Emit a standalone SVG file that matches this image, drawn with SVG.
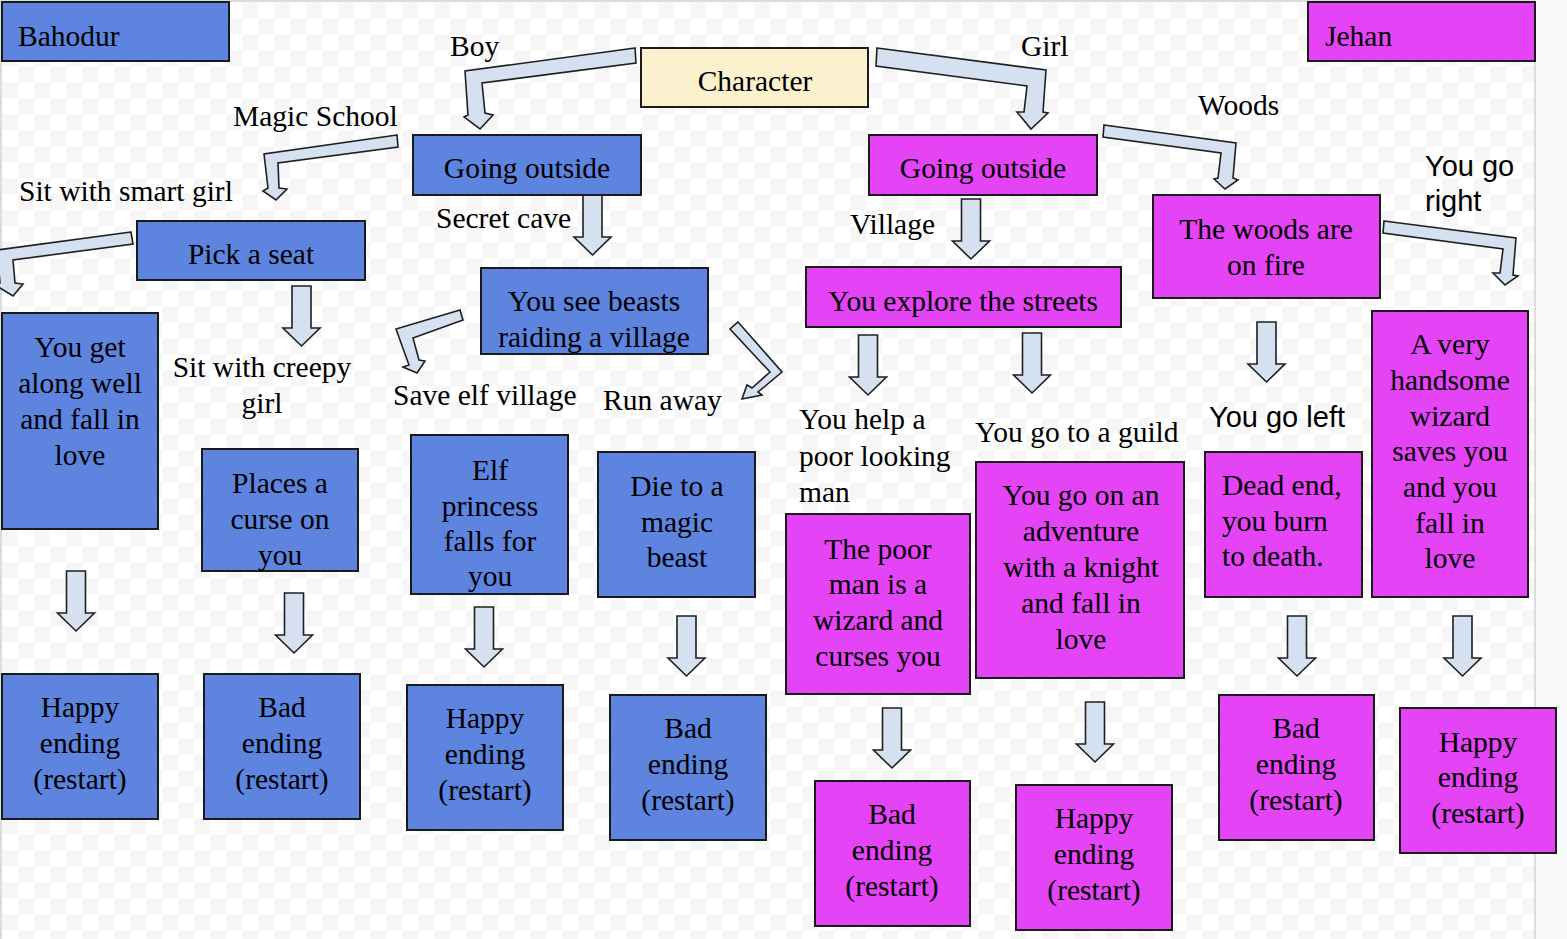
<svg xmlns="http://www.w3.org/2000/svg" width="1567" height="939" viewBox="0 0 1567 939">
<style>
.bl{fill:#5d85e0;stroke:#1a1a1a;stroke-width:2}
.mg{fill:#e443f6;stroke:#1a1a1a;stroke-width:2}
.ch{fill:#fcf1cf;stroke:#1a1a1a;stroke-width:2}
.ar{fill:#d5e1f1;stroke:#1f1f1f;stroke-width:1.6;stroke-linejoin:miter}
text{font-family:"Liberation Serif","Times New Roman",serif;font-size:29.5px;fill:#000}
.c{text-anchor:middle}
.s{font-family:"Liberation Sans",Arial,sans-serif;font-size:29px}
</style>
<defs>
<pattern id="chk" patternUnits="userSpaceOnUse" x="2" y="2" width="32" height="32">
<rect width="32" height="32" fill="#ffffff"/>
<rect x="16" y="0" width="16" height="16" fill="#f6f6f6"/>
<rect x="0" y="16" width="16" height="16" fill="#f6f6f6"/>
</pattern>
<path id="darr" d="M-9.5,0 H9.5 V42 H18.5 L0,60 L-18.5,42 H-9.5 Z"/>
</defs>
<rect x="0" y="0" width="1567" height="939" fill="#f8f9fb"/>
<rect x="1" y="1" width="1534" height="940" fill="url(#chk)" stroke="#c8c8c8" stroke-width="1.2"/>

<g id="connectors">
<polygon class="ar" points="635,48 465,71 468,115 464,117 480,129 493,115 485,113 482,83 636,63"/>
<polygon class="ar" points="877,48 1046,70 1043,112 1048,113 1031,129 1017,112 1024,112 1027,86 876,66"/>
<polygon class="ar" points="1104,125 1236,143 1233,178 1238,180 1225,189 1214,179 1218,178 1221,153 1103,137"/>
<polygon class="ar" points="1384,221 1516,238 1513,275 1518,276 1505,285 1493,273 1500,273 1503,249 1383,233"/>
<polygon class="ar" points="397,135 264,154 268,188 263,191 276,200 287,189 279,188 278,163 398,147"/>
<polygon class="ar" points="131,232 -3,250 0,283 -5,285 13,296 23,284 15,283 13,260 133,244"/>
<polygon class="ar" points="460,310 396,329 409,365 403,367 417,373 425,361 419,360 413,338 463,320"/>
<polygon class="ar" points="738,322 782,372 758,392 762,395 742,399 747,385 752,388 770,372 730,329"/>
<use href="#darr" class="ar" x="592.5" y="195"/>
<use href="#darr" class="ar" x="301.5" y="286"/>
<use href="#darr" class="ar" x="971" y="199"/>
<use href="#darr" class="ar" x="868" y="335"/>
<use href="#darr" class="ar" x="1032" y="333"/>
<use href="#darr" class="ar" x="1266.5" y="322"/>
<use href="#darr" class="ar" x="76" y="571"/>
<use href="#darr" class="ar" x="294" y="593"/>
<use href="#darr" class="ar" x="484" y="607"/>
<use href="#darr" class="ar" x="686.5" y="616"/>
<use href="#darr" class="ar" x="892" y="708"/>
<use href="#darr" class="ar" x="1095" y="702"/>
<use href="#darr" class="ar" x="1297" y="616"/>
<use href="#darr" class="ar" x="1462.5" y="616"/>
</g>

<g id="labels">
<text x="450" y="56">Boy</text>
<text x="1021" y="56">Girl</text>
<text x="233" y="126">Magic School</text>
<text x="19" y="201">Sit with smart girl</text>
<text x="436" y="228">Secret cave</text>
<text x="1198" y="115">Woods</text>
<text x="850" y="234">Village</text>
<text class="s" x="1425" y="176">You go</text>
<text class="s" x="1425" y="211">right</text>
<text class="c" x="262" y="377">Sit with creepy</text>
<text class="c" x="262" y="413">girl</text>
<text x="393" y="405">Save elf village</text>
<text x="603" y="410">Run away</text>
<text x="799" y="429">You help a</text>
<text x="799" y="466">poor looking</text>
<text x="799" y="502">man</text>
<text x="975" y="442">You go to a guild</text>
<text class="s" x="1209" y="427">You go left</text>
</g>

<g id="bahodur"><rect class="bl" x="2" y="2" width="227" height="59"/><text x="18" y="46">Bahodur</text></g>
<g id="jehan"><rect class="mg" x="1308" y="2" width="227" height="59"/><text x="1325" y="46">Jehan</text></g>
<g id="character"><rect class="ch" x="641" y="48" width="227" height="59"/><text class="c" x="755" y="91">Character</text></g>
<g id="boy-outside"><rect class="bl" x="413" y="135" width="228" height="60"/><text class="c" x="527" y="178">Going outside</text></g>
<g id="girl-outside"><rect class="mg" x="869" y="135" width="228" height="60"/><text class="c" x="983" y="178">Going outside</text></g>
<g id="woods-fire"><rect class="mg" x="1153" y="195" width="227" height="103"/><text class="c" x="1266" y="239">The woods are</text><text class="c" x="1266" y="275">on fire</text></g>
<g id="pick-seat"><rect class="bl" x="137" y="221" width="228" height="59"/><text class="c" x="251" y="264">Pick a seat</text></g>
<g id="beasts"><rect class="bl" x="481" y="268" width="227" height="86"/><text class="c" x="594" y="311">You see beasts</text><text class="c" x="594" y="347">raiding a village</text></g>
<g id="streets"><rect class="mg" x="806" y="267" width="315" height="60"/><text class="c" x="963" y="311">You explore the streets</text></g>
<g id="along-well"><rect class="bl" x="2" y="313" width="156" height="216"/><text class="c" x="80" y="357">You get</text><text class="c" x="80" y="393">along well</text><text class="c" x="80" y="429">and fall in</text><text class="c" x="80" y="465">love</text></g>
<g id="curse"><rect class="bl" x="202" y="449" width="156" height="122"/><text class="c" x="280" y="493">Places a</text><text class="c" x="280" y="529">curse on</text><text class="c" x="280" y="565">you</text></g>
<g id="elf"><rect class="bl" x="411" y="435" width="157" height="159"/><text class="c" x="490" y="480">Elf</text><text class="c" x="490" y="516">princess</text><text class="c" x="490" y="551">falls for</text><text class="c" x="490" y="586">you</text></g>
<g id="die"><rect class="bl" x="598" y="452" width="157" height="145"/><text class="c" x="677" y="496">Die to a</text><text class="c" x="677" y="532">magic</text><text class="c" x="677" y="567">beast</text></g>
<g id="poor-man"><rect class="mg" x="786" y="514" width="184" height="180"/><text class="c" x="878" y="559">The poor</text><text class="c" x="878" y="594">man is a</text><text class="c" x="878" y="630">wizard and</text><text class="c" x="878" y="666">curses you</text></g>
<g id="knight"><rect class="mg" x="976" y="462" width="208" height="216"/><text class="c" x="1081" y="505">You go on an</text><text class="c" x="1081" y="541">adventure</text><text class="c" x="1081" y="577">with a knight</text><text class="c" x="1081" y="613">and fall in</text><text class="c" x="1081" y="649">love</text></g>
<g id="dead-end"><rect class="mg" x="1205" y="452" width="157" height="145"/><text x="1222" y="495">Dead end,</text><text x="1222" y="531">you burn</text><text x="1222" y="566">to death.</text></g>
<g id="wizard"><rect class="mg" x="1372" y="311" width="156" height="286"/><text class="c" x="1450" y="354">A very</text><text class="c" x="1450" y="390">handsome</text><text class="c" x="1450" y="426">wizard</text><text class="c" x="1450" y="461">saves you</text><text class="c" x="1450" y="497">and you</text><text class="c" x="1450" y="533">fall in</text><text class="c" x="1450" y="568">love</text></g>

<g id="end1"><rect class="bl" x="2" y="674" width="156" height="145"/><text class="c" x="80" y="717">Happy</text><text class="c" x="80" y="753">ending</text><text class="c" x="80" y="789">(restart)</text></g>
<g id="end2"><rect class="bl" x="204" y="674" width="156" height="145"/><text class="c" x="282" y="717">Bad</text><text class="c" x="282" y="753">ending</text><text class="c" x="282" y="789">(restart)</text></g>
<g id="end3"><rect class="bl" x="407" y="685" width="156" height="145"/><text class="c" x="485" y="728">Happy</text><text class="c" x="485" y="764">ending</text><text class="c" x="485" y="800">(restart)</text></g>
<g id="end4"><rect class="bl" x="610" y="695" width="156" height="145"/><text class="c" x="688" y="738">Bad</text><text class="c" x="688" y="774">ending</text><text class="c" x="688" y="810">(restart)</text></g>
<g id="end5"><rect class="mg" x="815" y="781" width="155" height="145"/><text class="c" x="892" y="824">Bad</text><text class="c" x="892" y="860">ending</text><text class="c" x="892" y="896">(restart)</text></g>
<g id="end6"><rect class="mg" x="1016" y="785" width="156" height="145"/><text class="c" x="1094" y="828">Happy</text><text class="c" x="1094" y="864">ending</text><text class="c" x="1094" y="900">(restart)</text></g>
<g id="end7"><rect class="mg" x="1219" y="695" width="155" height="145"/><text class="c" x="1296" y="738">Bad</text><text class="c" x="1296" y="774">ending</text><text class="c" x="1296" y="810">(restart)</text></g>
<g id="end8"><rect class="mg" x="1400" y="708" width="156" height="145"/><text class="c" x="1478" y="752">Happy</text><text class="c" x="1478" y="787">ending</text><text class="c" x="1478" y="823">(restart)</text></g>
</svg>
